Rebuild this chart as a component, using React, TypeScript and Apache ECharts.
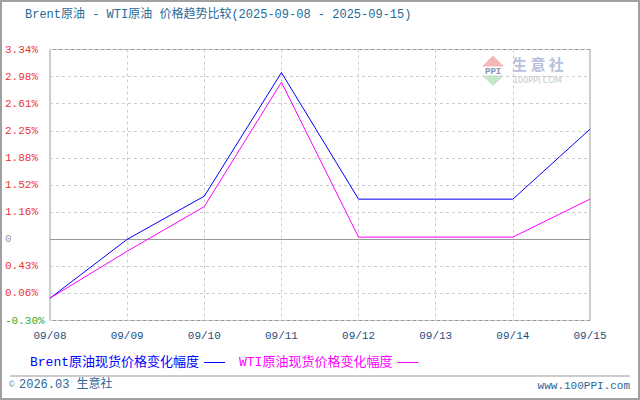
import React, { useEffect, useRef } from "react";
import * as echarts from "echarts";

const categories = ["09/08", "09/09", "09/10", "09/11", "09/12", "09/13", "09/14", "09/15"];
const brentValues = [0, 0.79, 1.37, 3.03, 1.33, 1.33, 1.33, 2.27];
const wtiValues = [0, 0.63, 1.23, 2.9, 0.82, 0.82, 0.82, 1.33];
const yTickLabels = ["-0.30%", "0.06%", "0.43%", "0", "1.16%", "1.52%", "1.88%", "2.25%", "2.61%", "2.98%", "3.34%"];
const yMin = -0.3;
const yInterval = 0.364;
const yMax = 3.34;
const brentName = "Brent原油现货价格变化幅度";
const wtiName = "WTI原油现货价格变化幅度";
const titleText = "Brent原油 - WTI原油 价格趋势比较(2025-09-08 - 2025-09-15)";

const FONT = "'Liberation Mono', 'Noto Sans CJK SC', monospace";

export default function App() {
  const ref = useRef<HTMLDivElement>(null);
  useEffect(() => {
    document.body.style.margin = "0";
    if (!ref.current) return;
    const chart = echarts.init(ref.current, null, { renderer: "svg" });
    const idxOf = (v: number) => Math.round((v - yMin) / yInterval);
    chart.setOption({
      animation: false,
      backgroundColor: "#fff",
      textStyle: { fontFamily: FONT },
      grid: { left: 50, right: 50, top: 49.5, height: 271, show: true, borderColor: "#999", borderWidth: 1 },
      xAxis: {
        type: "category",
        data: categories,
        boundaryGap: false,
        axisLine: { show: false },
        axisTick: { show: false },
        axisLabel: { color: "#1f4f7f", fontSize: 11, margin: 10, fontFamily: FONT, interval: 0 },
        splitLine: { show: true, lineStyle: { color: "#ccc", type: [3, 3], width: 1 } },
      },
      yAxis: {
        type: "value",
        min: yMin,
        max: yMax,
        interval: yInterval,
        axisLine: { show: false },
        axisTick: { show: false },
        axisLabel: {
          fontSize: 11,
          fontFamily: FONT,
          align: "left",
          margin: 45,
          formatter: (v: number) => yTickLabels[idxOf(v)] ?? "",
          color: (v: number) => {
            const i = idxOf(v);
            if (i === 0) return "#33aa33";
            if (yTickLabels[i] === "0") return "#999";
            return "#ee3333";
          },
        },
        splitLine: { show: true, lineStyle: { color: "#ccc", type: [3, 3], width: 1 } },
      },
      legend: {
        left: 25,
        top: 351,
        align: "right",
        icon: "rect",
        itemWidth: 21,
        itemHeight: 1,
        itemGap: 14,
        textStyle: { fontSize: 13, fontFamily: FONT },
        data: [
          { name: brentName, textStyle: { color: "#0000ff" } },
          { name: wtiName, textStyle: { color: "#ff00ff" } },
        ],
      },
      series: [
        {
          name: brentName,
          type: "line",
          data: brentValues,
          symbol: "none",
          lineStyle: { color: "#0000ff", width: 1 },
          itemStyle: { color: "#0000ff" },
          z: 3,
          markLine: {
            silent: true,
            symbol: ["none", "none"],
            label: { show: false },
            lineStyle: { color: "#999", type: "solid", width: 1 },
            data: [{ yAxis: yMin + 3 * yInterval }],
            z: 1,
          },
        },
        {
          name: wtiName,
          type: "line",
          data: wtiValues,
          symbol: "none",
          lineStyle: { color: "#ff00ff", width: 1 },
          itemStyle: { color: "#ff00ff" },
          z: 3,
        },
      ],
      graphic: [
        { type: "rect", shape: { x: 1, y: 1, width: 638, height: 398 }, style: { fill: "none", stroke: "#a0a0a0", lineWidth: 2 }, silent: true },
        { type: "text", left: 25, top: 9, style: { text: titleText, fill: "#1f6b9a", fontSize: 12, fontFamily: FONT } },
        { type: "line", shape: { x1: 10, y1: 376, x2: 630, y2: 376 }, style: { stroke: "#999", lineWidth: 1 } },
        { type: "text", x: 9, y: 380, style: { text: "©", fill: "#7a9ab8", fontSize: 9, fontFamily: FONT } },
        { type: "text", x: 19, y: 379, style: { text: "2026.03 生意社", fill: "#2a6496", fontSize: 12, fontFamily: FONT } },
        { type: "text", x: 630, y: 380, style: { text: "www.100PPI.com", fill: "#2a6496", fontSize: 11, fontFamily: FONT, align: "right" } },
        // watermark
        { type: "polygon", shape: { points: [[493, 55.5], [482, 66.5], [504, 66.5]] }, style: { fill: "#f4b8b8" }, silent: true },
        { type: "text", x: 485, y: 67, style: { text: "PPI", fill: "#8090b8", fontSize: 9, fontWeight: "bold", fontFamily: FONT }, silent: true },
        { type: "polygon", shape: { points: [[482, 75.5], [504, 75.5], [493, 86]] }, style: { fill: "#c4e8c4" }, silent: true },
        { type: "text", x: 512, y: 56, style: { text: "生 意 社", fill: "#b8c0dc", fontSize: 15, fontWeight: "bold", fontFamily: "'Noto Sans CJK SC'" }, silent: true },
        { type: "text", x: 513, y: 76, style: { text: "100PPI.COM", fill: "#c8c8c8", fontSize: 8, fontFamily: "'DejaVu Sans'" }, silent: true },
      ],
    });
    return () => chart.dispose();
  }, []);
  return <div ref={ref} style={{ width: 640, height: 400 }} />;
}
